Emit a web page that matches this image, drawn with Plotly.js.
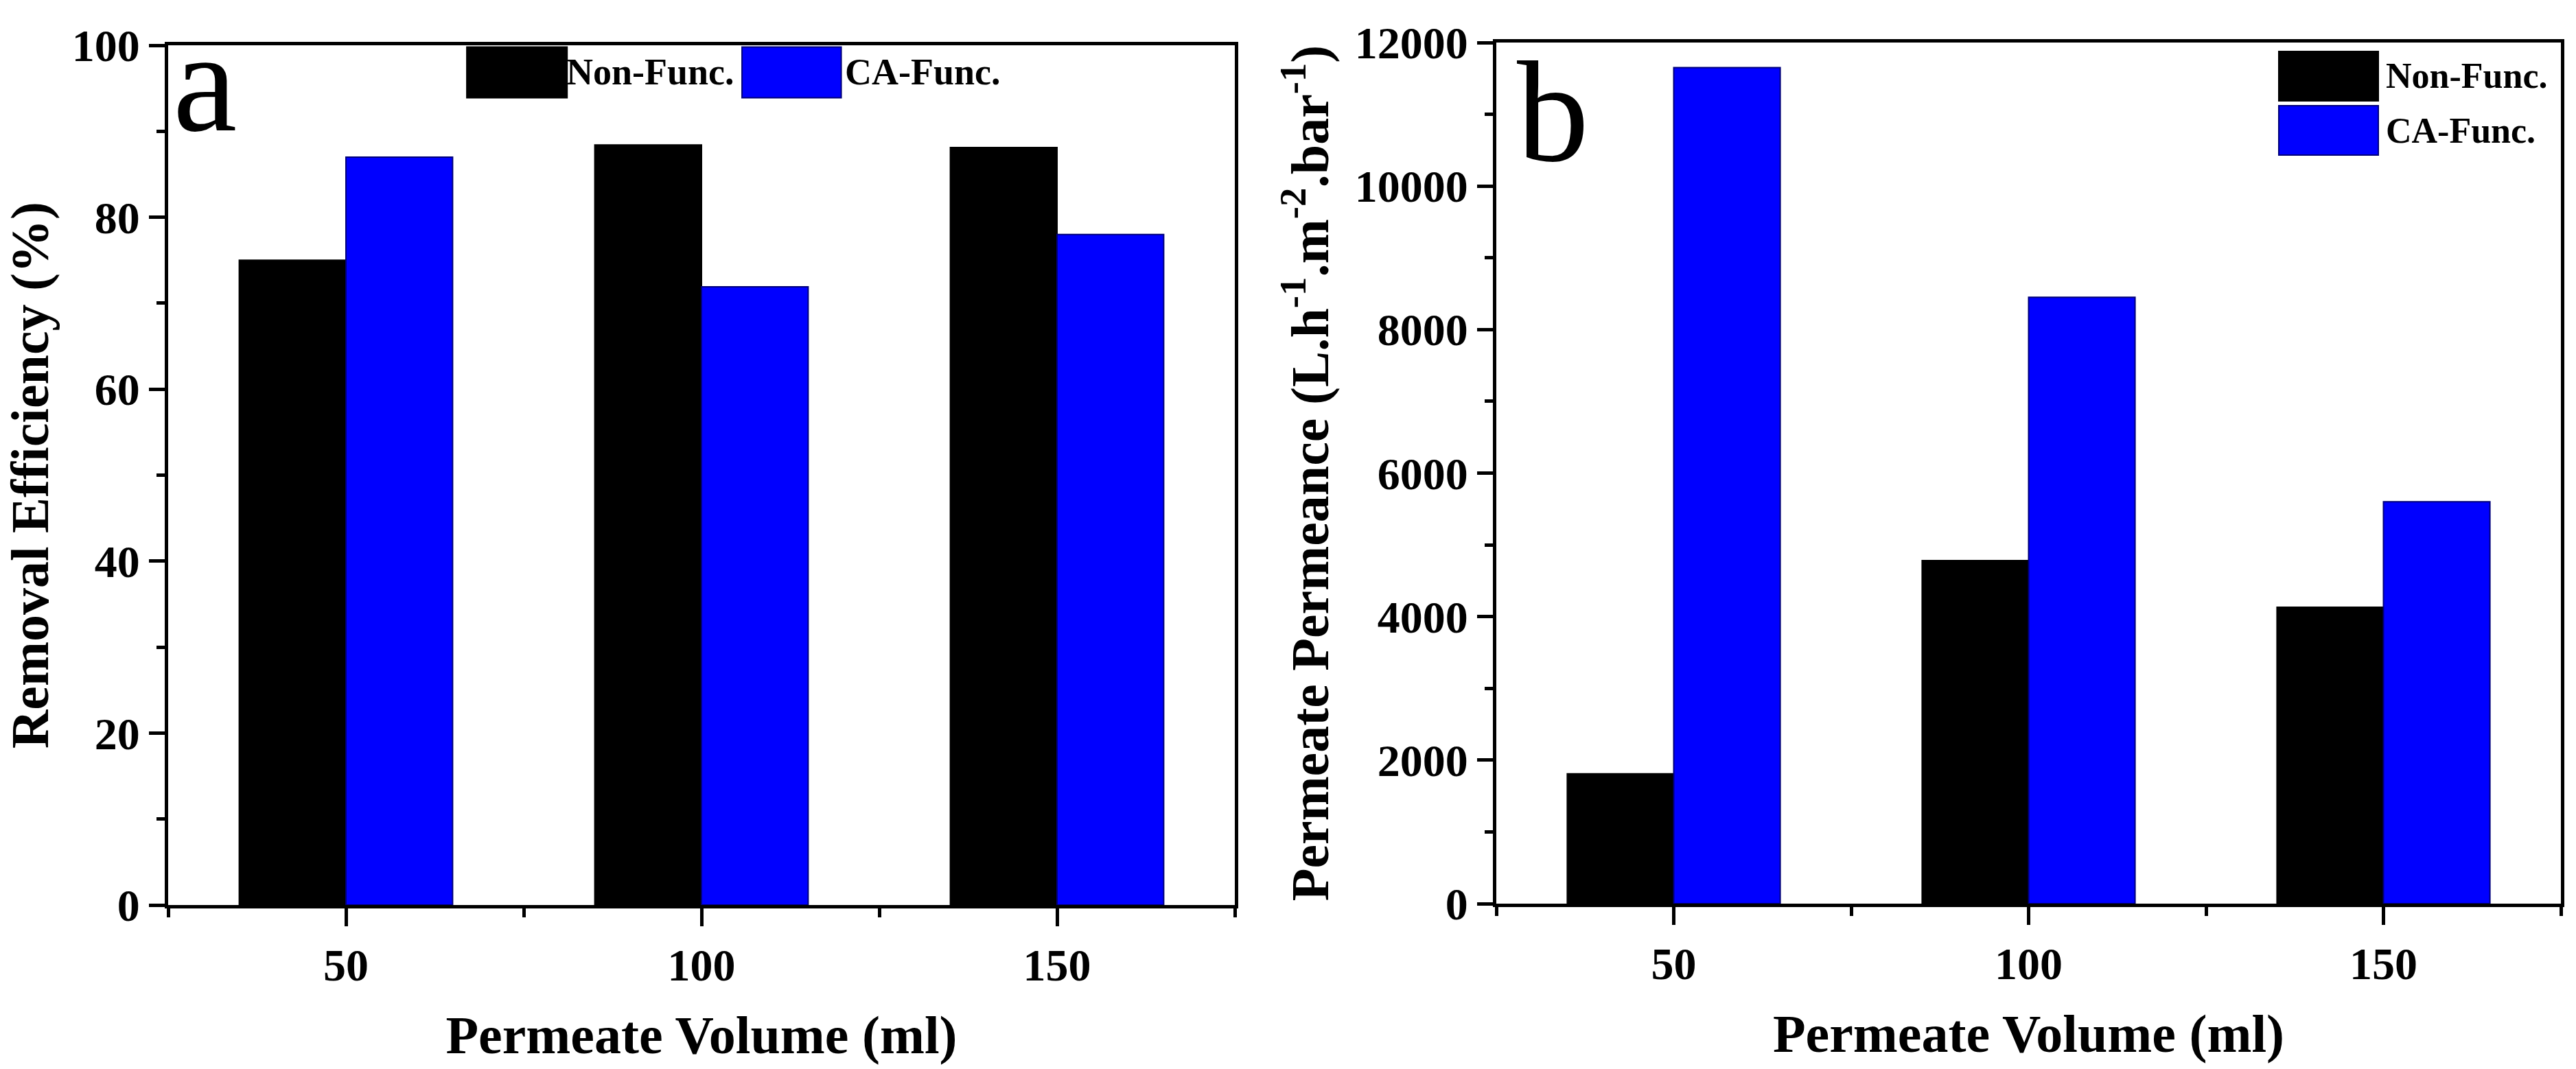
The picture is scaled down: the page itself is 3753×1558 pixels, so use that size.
<!DOCTYPE html>
<html>
<head>
<meta charset="utf-8">
<script src="https://cdn.plot.ly/plotly-3.0.1.min.js"></script>
<style>html,body{margin:0;padding:0;background:#fff;}#chart{width:3753px;height:1558px;}</style>
</head>
<body>
<div id="chart"></div>
<script>
// ---- data ----
var permeateVolume = [50, 100, 150];
var seriesNames = ["Non-Func.", "CA-Func."];
var removalNonFunc = [75.0, 88.4, 88.1];
var removalCAFunc = [87.0, 71.9, 78.0];
var permeanceNonFunc = [1810, 4780, 4130];
var permeanceCAFunc = [11650, 8450, 5600];
var xTickLabels = ["50", "100", "150"];
var panelLabels = ["a", "b"];
var xTitle = "Permeate Volume (ml)";
var yTitleA = "Removal Efficiency (%)";
var yTitleB = "Permeate Permeance (L.h<sup>-1</sup>.m<sup>-2</sup>.bar<sup>-1</sup>)";

// ---- style ----
var FONT = "Liberation Serif, Times New Roman, serif";
var W = 3753, H = 1558;
var colors = ["#000000", "#0000FF"];
var edge = ["#000000", "#00007a"];

function bar(x, y, i, xa, ya) {
  return {type: "bar", x: x, y: y, name: seriesNames[i], xaxis: xa, yaxis: ya,
    marker: {color: colors[i], line: {color: edge[i], width: 2}}, showlegend: false,
    hoverinfo: "x+y"};
}
var traces = [
  bar(permeateVolume, removalNonFunc, 0, "x", "y"),
  bar(permeateVolume, removalCAFunc, 1, "x", "y"),
  bar(permeateVolume, permeanceNonFunc, 0, "x2", "y2"),
  bar(permeateVolume, permeanceCAFunc, 1, "x2", "y2")
];

var tickFont = {family: FONT, size: 66, color: "#000", weight: 700};
var titleFont = {family: FONT, size: 78, color: "#000", weight: 700};

function xAxis(domain, anchor) {
  return {domain: domain, anchor: anchor, range: [25, 175], tickvals: permeateVolume, ticktext: xTickLabels,
    ticks: "outside", ticklen: 26, tickwidth: 5, tickcolor: "#000",
    minor: {ticks: "outside", ticklen: 13, tickwidth: 5, tickcolor: "#000", tickvals: [25, 75, 125, 175]},
    showline: true, linecolor: "#000", linewidth: 5, mirror: true, showgrid: false, zeroline: false,
    tickfont: tickFont, automargin: false,
    title: {text: xTitle, font: titleFont, standoff: 40}};
}
function yAxis(domain, anchor, dtick, minorD, maxv, title, standoff) {
  return {domain: domain, anchor: anchor, range: [0, maxv], dtick: dtick, tick0: 0, tickformat: "d",
    ticks: "outside", ticklen: 23, tickwidth: 5, tickcolor: "#000",
    minor: {ticks: "outside", ticklen: 12, tickwidth: 5, tickcolor: "#000", dtick: minorD},
    showline: true, linecolor: "#000", linewidth: 5, mirror: true, showgrid: false, zeroline: false,
    tickfont: tickFont, automargin: false,
    title: {text: title, font: titleFont, standoff: standoff}};
}

var axA = [245 / W, 1799 / W], ayA = [1 - 1319 / H, 1 - 66 / H];
var axB = [2180 / W, 3731 / W], ayB = [1 - 1317 / H, 1 - 62 / H];

var shapes = [], annotations = [];
function swatch(xref, yref, x0, x1, y0, y1, i) {
  shapes.push({type: "rect", xref: xref, yref: yref, x0: x0, x1: x1, y0: y0, y1: y1,
    fillcolor: colors[i], line: {color: edge[i], width: 2}});
}
function label(xref, yref, x, y, text, size, weight) {
  annotations.push({xref: xref, yref: yref, x: x, y: y, text: text, showarrow: false,
    xanchor: "left", yanchor: "middle",
    font: {family: FONT, size: size, color: "#000", weight: weight}});
}
// legend panel a (horizontal, top)
swatch("x domain", "y domain", 0.280, 0.374, 0.939, 0.998, 0);
label("x domain", "y domain", 0.372, 0.969, seriesNames[0], 54, 700);
swatch("x domain", "y domain", 0.538, 0.631, 0.939, 0.998, 1);
label("x domain", "y domain", 0.633, 0.969, seriesNames[1], 54, 700);
// legend panel b (vertical, top right)
swatch("x2 domain", "y2 domain", 0.735, 0.8285, 0.9323, 0.9896, 0);
label("x2 domain", "y2 domain", 0.834, 0.961, seriesNames[0], 52, 700);
swatch("x2 domain", "y2 domain", 0.735, 0.8285, 0.8693, 0.9267, 1);
label("x2 domain", "y2 domain", 0.834, 0.898, seriesNames[1], 52, 700);
// panel letters
label("x domain", "y domain", 0.003, 0.958, panelLabels[0], 210, 400);
label("x2 domain", "y2 domain", 0.018, 0.9195, panelLabels[1], 210, 400);

var layout = {
  width: W, height: H,
  margin: {l: 0, r: 0, t: 0, b: 0, pad: 0},
  paper_bgcolor: "#fff", plot_bgcolor: "#fff",
  barmode: "group", bargap: 0.4, bargroupgap: 0,
  font: {family: FONT, color: "#000"},
  showlegend: false,
  xaxis: xAxis(axA, "y"),
  yaxis: yAxis(ayA, "x", 20, 10, 100, yTitleA, 10),
  xaxis2: xAxis(axB, "y2"),
  yaxis2: yAxis(ayB, "x2", 2000, 1000, 12000, yTitleB, 14),
  shapes: shapes,
  annotations: annotations
};

Plotly.newPlot("chart", traces, layout, {displayModeBar: false, staticPlot: true});
</script>
</body>
</html>
